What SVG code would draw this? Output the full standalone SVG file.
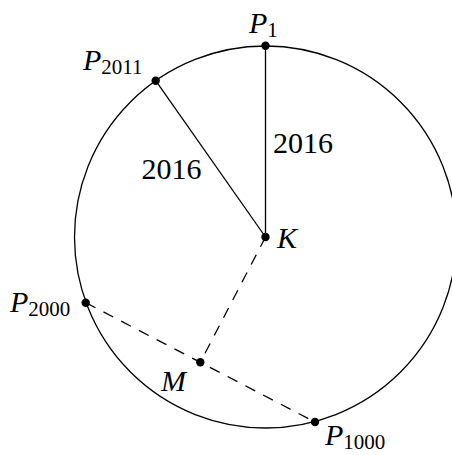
<svg xmlns="http://www.w3.org/2000/svg" width="452" height="455" viewBox="0 0 452 455">
<style>
.bg{fill:#fff}
.circ{fill:none;stroke:#000;stroke-width:1.3}
.edge{fill:none;stroke:#000;stroke-width:1.3}
.dash{stroke-dasharray:11 9}
.dot{fill:#000}
.lbl{font-family:"Liberation Serif","DejaVu Serif",serif;font-size:30px;fill:#000}
.it{font-style:italic}
.sub{font-size:21px;font-style:normal}
</style>
<rect class="bg" x="0" y="0" width="452" height="455"/>
<g id="circle">
<circle class="circ" cx="265.5" cy="237" r="191"/>
</g>
<g id="connectors">
<line class="edge" x1="265.5" y1="237" x2="265.5" y2="45.7"/>
<line class="edge" x1="265.5" y1="237" x2="155.7" y2="80.7"/>
<line class="edge dash" x1="265.5" y1="237" x2="200.3" y2="362.3"/>
<line class="edge dash" x1="85.7" y1="302.7" x2="315" y2="422"/>
<text class="lbl" x="273" y="152.5">2016</text>
<text class="lbl" x="141.5" y="178.5">2016</text>
</g>
<g id="P1">
<circle class="dot" cx="265.5" cy="45.7" r="4.2"/>
<text class="lbl it" x="249" y="33">P<tspan class="sub" dy="4">1</tspan></text>
</g>
<g id="P2011">
<circle class="dot" cx="155.7" cy="80.7" r="4.2"/>
<text class="lbl it" x="83" y="70">P<tspan class="sub" dy="4">2011</tspan></text>
</g>
<g id="K">
<circle class="dot" cx="265.5" cy="237" r="4.2"/>
<text class="lbl it" x="277" y="248">K</text>
</g>
<g id="P2000">
<circle class="dot" cx="85.7" cy="302.7" r="4.2"/>
<text class="lbl it" x="10" y="311.5">P<tspan class="sub" dy="4">2000</tspan></text>
</g>
<g id="M">
<circle class="dot" cx="200.3" cy="362.3" r="4.2"/>
<text class="lbl it" x="161" y="390.5">M</text>
</g>
<g id="P1000">
<circle class="dot" cx="315" cy="422" r="4.2"/>
<text class="lbl it" x="325" y="445">P<tspan class="sub" dy="4">1000</tspan></text>
</g>
</svg>
